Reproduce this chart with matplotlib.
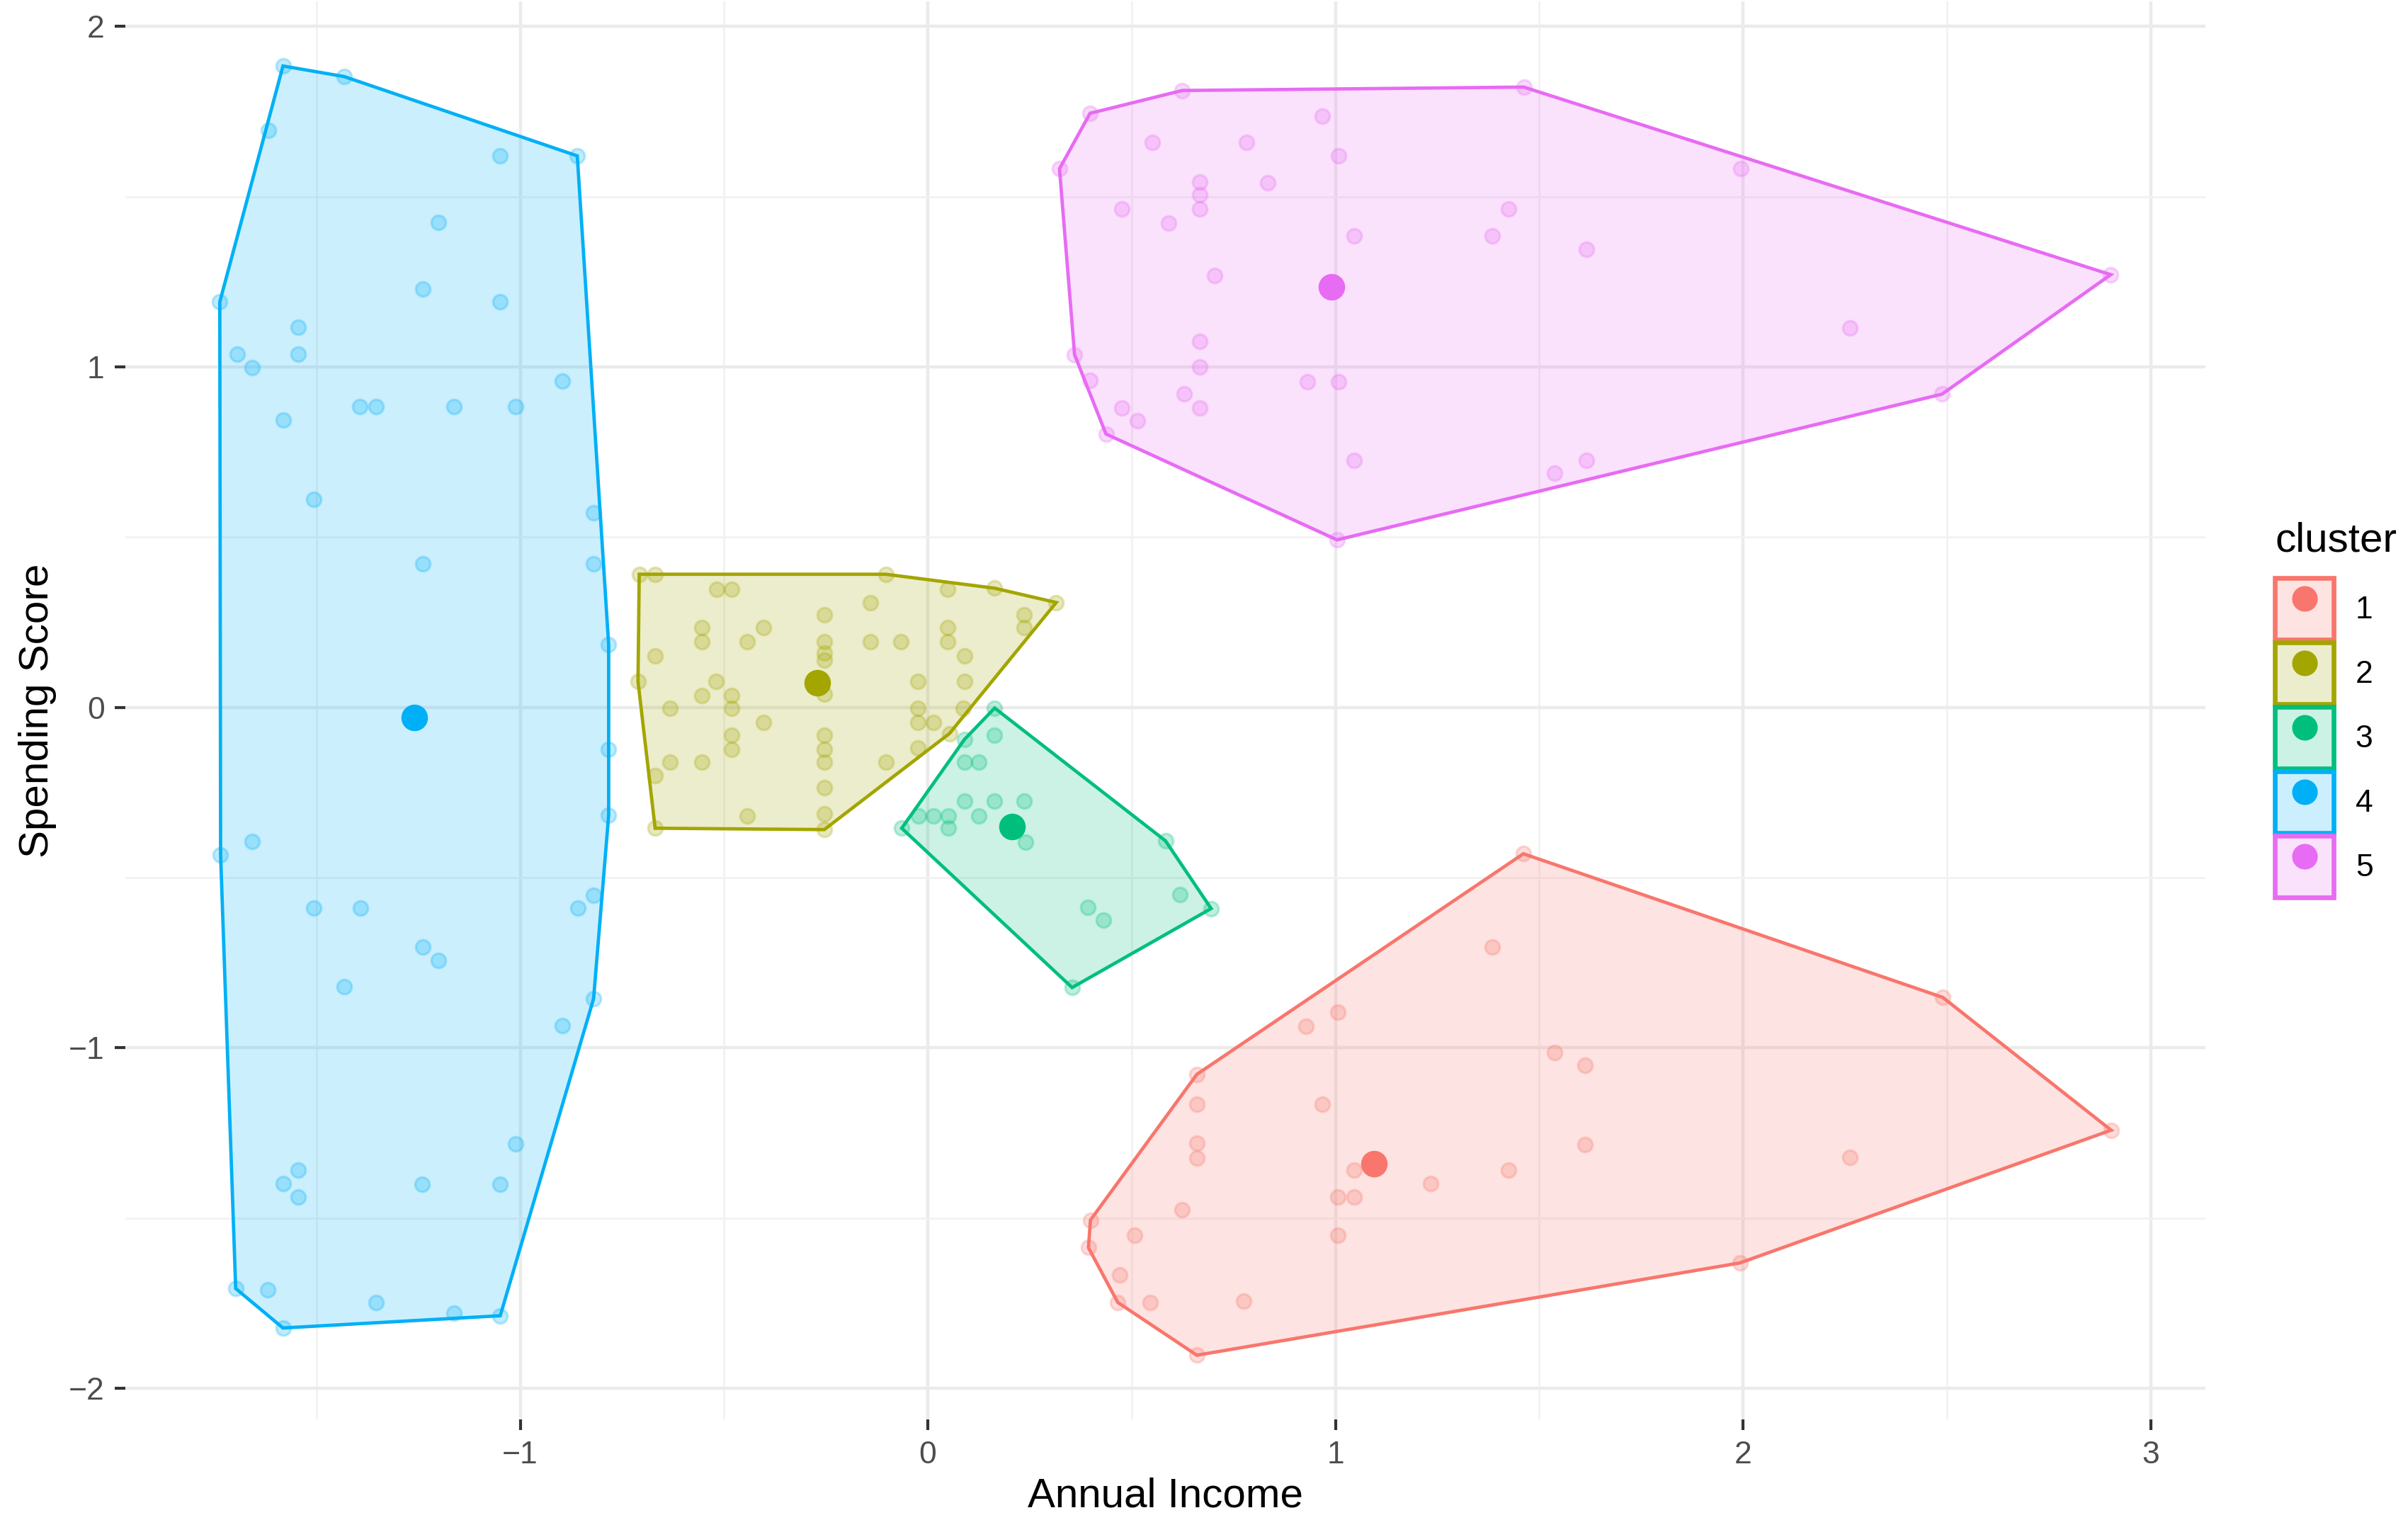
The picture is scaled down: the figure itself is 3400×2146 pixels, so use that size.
import matplotlib.pyplot as plt
from matplotlib.lines import Line2D
from matplotlib.patches import Patch
from matplotlib.ticker import MultipleLocator

plt.rcParams['font.family'] = ['Liberation Sans', 'DejaVu Sans']

cluster_names = ['1', '2', '3', '4', '5']
cluster_colors = ['#F8766D', '#A3A500', '#00BF7D', '#00B0F6', '#E76BF3']

# standardised income / spending score of each customer, per cluster
c1_x = [1.461, 1.385, 2.490, 1.006, 0.927, 0.660, 1.537, 1.613, 0.660, 0.967,
        0.660, 0.660, 1.613, 2.903, 2.262, 1.045, 1.424, 1.234, 1.006, 1.045,
        0.623, 0.399, 0.508, 1.006, 0.394, 0.471, 0.466, 0.546, 0.775, 1.992,
        0.660]
c1_y = [-0.430, -0.703, -0.852, -0.895, -0.936, -1.078, -1.013, -1.051, -1.166, -1.166,
        -1.280, -1.323, -1.285, -1.242, -1.322, -1.360, -1.360, -1.398, -1.438, -1.438,
        -1.476, -1.506, -1.551, -1.551, -1.587, -1.667, -1.748, -1.748, -1.744, -1.632,
        -1.903]

c2_x = [-0.708, -0.669, -0.103, 0.164, 0.315, -0.517, -0.481, -0.140, -0.254, 0.048,
        0.237, 0.237, -0.555, -0.403, 0.048, -0.555, -0.444, -0.254, -0.140, -0.066,
        0.048, -0.254, -0.254, -0.669, 0.090, -0.711, -0.519, -0.025, 0.090, -0.555,
        -0.481, -0.254, -0.633, -0.481, -0.025, 0.087, -0.025, 0.014, -0.403, -0.481,
        -0.254, -0.481, -0.254, -0.025, 0.053, -0.633, -0.555, -0.254, -0.103, -0.669,
        -0.254, -0.444, -0.254, -0.669, -0.254]
c2_y = [0.391, 0.391, 0.391, 0.350, 0.308, 0.346, 0.346, 0.308, 0.271, 0.346,
        0.271, 0.234, 0.234, 0.234, 0.234, 0.192, 0.192, 0.192, 0.192, 0.192,
        0.192, 0.159, 0.138, 0.151, 0.151, 0.076, 0.076, 0.076, 0.076, 0.035,
        0.035, 0.039, -0.002, -0.002, -0.002, -0.002, -0.044, -0.044, -0.044, -0.081,
        -0.081, -0.123, -0.123, -0.119, -0.077, -0.160, -0.160, -0.160, -0.160, -0.201,
        -0.235, -0.318, -0.313, -0.355, -0.359]

c3_x = [0.164, 0.164, 0.090, 0.090, 0.125, 0.090, 0.164, 0.237, -0.023, 0.014,
        0.051, 0.125, 0.051, -0.064, 0.239, 0.583, 0.619, 0.695, 0.393, 0.430,
        0.354]
c3_y = [-0.002, -0.081, -0.094, -0.160, -0.160, -0.276, -0.276, -0.276, -0.318, -0.318,
        -0.318, -0.318, -0.355, -0.355, -0.396, -0.392, -0.550, -0.591, -0.587, -0.624,
        -0.823]

c4_x = [-1.582, -1.432, -1.618, -0.860, -1.049, -1.201, -1.239, -1.049, -1.737, -1.545,
        -1.695, -1.545, -1.658, -0.897, -1.394, -1.354, -1.163, -1.011, -1.582, -1.507,
        -0.820, -0.820, -1.239, -0.783, -0.783, -0.783, -1.735, -1.658, -1.507, -1.392,
        -0.820, -0.858, -1.239, -1.201, -1.431, -0.820, -0.897, -1.011, -1.545, -1.582,
        -1.545, -1.240, -1.049, -1.698, -1.620, -1.354, -1.582, -1.163, -1.049]
c4_y = [1.884, 1.853, 1.695, 1.620, 1.620, 1.424, 1.229, 1.191, 1.191, 1.116,
        1.037, 1.037, 0.999, 0.958, 0.883, 0.883, 0.883, 0.883, 0.845, 0.612,
        0.572, 0.421, 0.421, 0.184, -0.124, -0.317, -0.433, -0.394, -0.589, -0.589,
        -0.551, -0.589, -0.704, -0.744, -0.821, -0.856, -0.935, -1.283, -1.360, -1.399,
        -1.439, -1.400, -1.400, -1.707, -1.710, -1.748, -1.823, -1.780, -1.787]

c5_x = [0.624, 1.462, 0.398, 0.323, 0.968, 0.551, 0.781, 1.007, 1.994, 0.667,
        0.667, 0.834, 0.476, 0.667, 1.424, 0.590, 1.046, 1.385, 1.615, 0.704,
        2.902, 2.262, 0.667, 0.360, 0.667, 0.398, 0.931, 1.007, 0.629, 0.476,
        0.667, 0.514, 0.437, 2.488, 1.046, 1.615, 1.538, 1.004]
c5_y = [1.812, 1.822, 1.745, 1.582, 1.736, 1.659, 1.659, 1.620, 1.582, 1.543,
        1.505, 1.541, 1.464, 1.464, 1.464, 1.423, 1.385, 1.385, 1.346, 1.269,
        1.271, 1.115, 1.074, 1.036, 1.000, 0.961, 0.957, 0.957, 0.920, 0.880,
        0.880, 0.842, 0.803, 0.920, 0.726, 0.726, 0.689, 0.492]

centers_x = [1.095, -0.271, 0.206, -1.260, 0.990]
centers_y = [-1.340, 0.072, -0.351, -0.030, 1.236]


def convex_hull(xs, ys):
    pts = sorted(set(zip(xs, ys)))

    def cross(o, a, b):
        return (a[0] - o[0]) * (b[1] - o[1]) - (a[1] - o[1]) * (b[0] - o[0])

    lower = []
    for p in pts:
        while len(lower) >= 2 and cross(lower[-2], lower[-1], p) <= 0:
            lower.pop()
        lower.append(p)
    upper = []
    for p in reversed(pts):
        while len(upper) >= 2 and cross(upper[-2], upper[-1], p) <= 0:
            upper.pop()
        upper.append(p)
    return lower[:-1] + upper[:-1]


def main():
    clusters = [(c1_x, c1_y), (c2_x, c2_y), (c3_x, c3_y), (c4_x, c4_y), (c5_x, c5_y)]

    fig = plt.figure(figsize=(17, 10.73), dpi=200)
    ax = fig.add_axes([0.052, 0.066, 0.864, 0.933])

    for (xs, ys), color in zip(clusters, cluster_colors):
        hull = convex_hull(xs, ys)
        ax.fill([p[0] for p in hull], [p[1] for p in hull],
                facecolor=color, alpha=0.2, edgecolor='none', zorder=2)
        ax.fill([p[0] for p in hull], [p[1] for p in hull],
                facecolor='none', edgecolor=color, linewidth=1.7, zorder=4)
        ax.scatter(xs, ys, s=55, color=color, alpha=0.25, linewidths=1.2, zorder=3)

    for cx, cy, color in zip(centers_x, centers_y, cluster_colors):
        ax.plot(cx, cy, 'o', color=color, markersize=12.5, zorder=5)

    # ggplot-like 5% expansion around the data
    all_x = sum([list(c[0]) for c in clusters], [])
    all_y = sum([list(c[1]) for c in clusters], [])
    dx = (max(all_x) - min(all_x)) * 0.05
    dy = (max(all_y) - min(all_y)) * 0.05
    ax.set_xlim(min(all_x) - dx, max(all_x) + dx)
    ax.set_ylim(min(all_y) - dy, max(all_y) + dy)

    ax.xaxis.set_major_locator(MultipleLocator(1))
    ax.yaxis.set_major_locator(MultipleLocator(1))
    ax.xaxis.set_minor_locator(MultipleLocator(0.5))
    ax.yaxis.set_minor_locator(MultipleLocator(0.5))
    ax.grid(which='major', color='#EBEBEB', linewidth=1.6, zorder=0)
    ax.grid(which='minor', color='#F2F2F2', linewidth=1.0, zorder=0)
    ax.set_axisbelow(True)
    for spine in ax.spines.values():
        spine.set_visible(False)
    ax.tick_params(which='major', length=5.5, width=1.5, color='#333333',
                   labelsize=16, labelcolor='#4D4D4D', pad=5)
    ax.tick_params(which='minor', length=0)

    ax.set_xlabel('Annual Income', fontsize=21, labelpad=4)
    ax.set_ylabel('Spending Score', fontsize=21, labelpad=6)

    handles = []
    for color in cluster_colors:
        box = Patch(facecolor=color + '33', edgecolor=color, linewidth=2.4)
        dot = Line2D([], [], marker='o', linestyle='', color=color, markersize=12)
        handles.append((box, dot))
    leg = fig.legend(handles, cluster_names, title='cluster', loc='center left',
                     bbox_to_anchor=(0.937, 0.533), frameon=False, fontsize=16,
                     title_fontsize=21, handlelength=1.85, handleheight=2.65,
                     labelspacing=0.08, handletextpad=0.7, alignment='left',
                     borderaxespad=0.2)
    # a little more room between the title and the keys
    leg._legend_box.sep = 9

    fig.savefig('out.png', dpi=200, facecolor='white')


if __name__ == '__main__':
    main()
